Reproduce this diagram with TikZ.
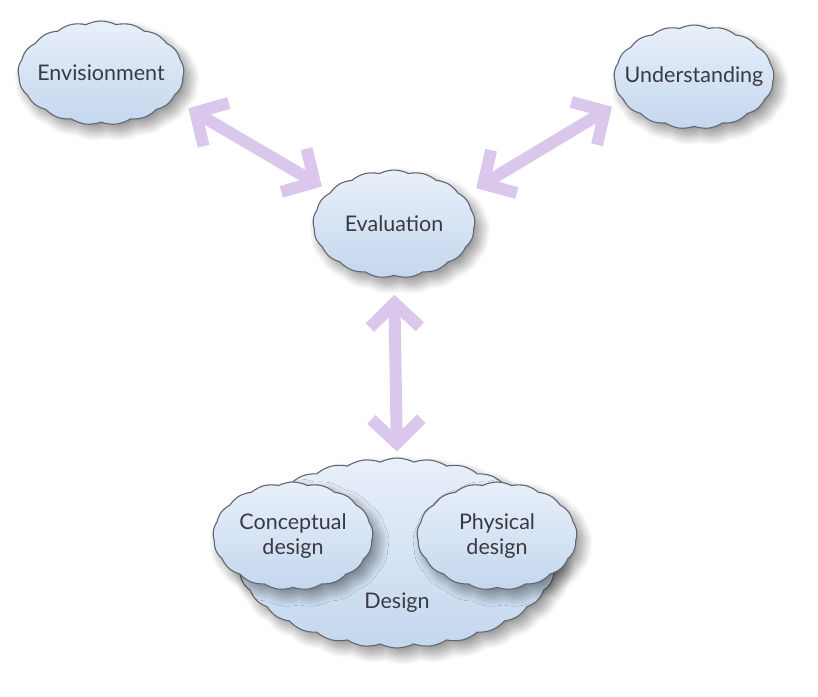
\documentclass[tikz,border=0pt]{standalone}
\usepackage{fontspec}
\setmainfont{Lato}
\usetikzlibrary{shapes.symbols,shadows.blur,arrows.meta}

\definecolor{puffedge}{RGB}{98,102,112}
\definecolor{pufftop}{RGB}{232,240,250}
\definecolor{puffbottom}{RGB}{196,215,238}
\definecolor{lilac}{RGB}{219,198,236}
\definecolor{labelgray}{RGB}{58,58,66}

\tikzset{
    puff/.style={cloud, cloud puffs=#1, cloud puff arc=55, cloud ignores aspect,
        draw=puffedge, line width=1.1pt, top color=pufftop, bottom color=puffbottom,
        text=labelgray, font=\fontsize{21.5}{25}\selectfont, align=center,
        inner xsep=-30pt, inner ysep=0pt,
        blur shadow={shadow xshift=6pt, shadow yshift=-7pt, shadow blur radius=10pt,
            shadow opacity=45, shadow blur steps=30}},
    puff/.default=17,
    twoway/.style={draw=lilac, line width=12pt,
        {Straight Barb[sharp,length=24pt,width=50pt]}-{Straight Barb[sharp,length=24pt,width=50pt]}}
}

\begin{document}
\begin{tikzpicture}[x=1pt, y=-1pt]
    \useasboundingbox (0,0) rectangle (818,696);

    % the three outer activities
    \node[puff, minimum width=166pt, minimum height=104pt] (envis) at (101,73) {Envisionment};
    \node[puff, minimum width=160pt, minimum height=104pt] (underst) at (694,77) {Understanding};
    \node[puff, minimum width=162pt, minimum height=108pt] (evaln) at (394,224) {Evaluation};

    % design, with its two parts on top
    \node[puff=30, minimum width=324pt, minimum height=190pt] (design) at (397,553) {};
    \path (design.center) ++(0,50) node[text=labelgray, font=\fontsize{21.5}{25}\selectfont] (designtxt) {Design};
    \node[puff, minimum width=160pt, minimum height=108pt] (concept) at (293,536) {Conceptual\\design};
    \node[puff, minimum width=160pt, minimum height=108pt] (physic) at (497,536) {Physical\\design};

    % two-way links into evaluation
    \draw[twoway, shorten <=18pt, shorten >=10pt] (envis.-20) -- (evaln.153);
    \draw[twoway, shorten <=15pt, shorten >=13pt] (evaln.22) -- (underst.198);
    \draw[twoway, shorten <=19pt, shorten >=6pt] (evaln.south) -- (design.north);
\end{tikzpicture}
\end{document}
